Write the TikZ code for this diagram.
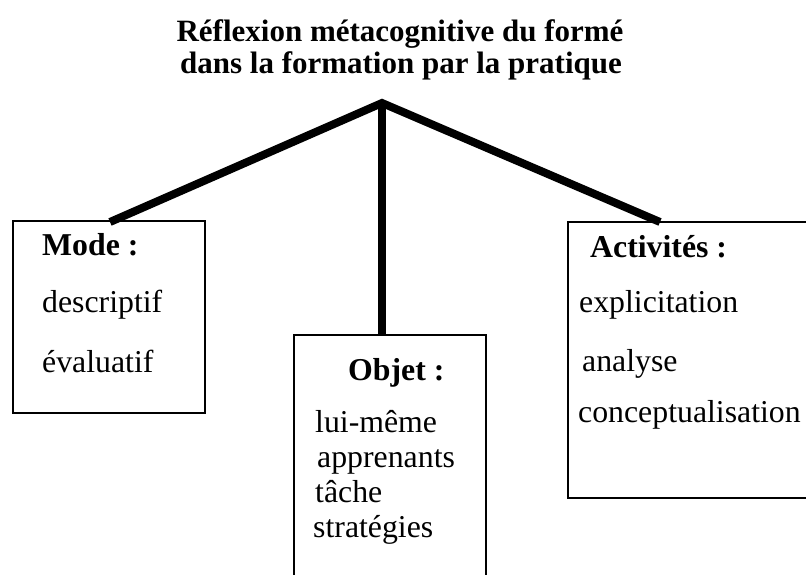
\documentclass[tikz,border=0pt]{standalone}
\usepackage{fontspec}
\setmainfont{Liberation Serif}
\begin{document}
\begin{tikzpicture}[x=1pt,y=-1pt,
  boxst/.style={draw,line width=1.6pt,minimum width=#1,inner sep=0pt,anchor=north west},
  branch/.style={line width=8pt},
  txt/.style={anchor=base west,inner sep=0pt,font=\fontsize{31.8}{33}\selectfont},
  hd/.style={txt,font=\fontsize{31.8}{33}\selectfont\bfseries},
  ttl/.style={anchor=base,inner sep=0pt,font=\fontsize{31}{33}\selectfont\bfseries}]
\useasboundingbox (0,0) rectangle (806,574);
\clip (0,0) rectangle (806,574);
% title
\node[ttl] (t1) at (400,41) {Réflexion métacognitive du formé};
\node[ttl] (t2) at (401,73) {dans la formation par la pratique};
% boxes
\node[boxst=192pt,minimum height=192pt] (lbox) at (12,220) {};
\node[boxst=192pt,minimum height=280pt] (mbox) at (293,334) {};
\node[boxst=260pt,minimum height=276pt] (rbox) at (567,221) {};
% connectors
\coordinate (apex) at (382,103);
\coordinate (lend) at (110,222);
\coordinate (rend) at (660,222);
\draw[branch] (lend) -- (apex) -- (rend);
\draw[branch] (apex) -- (382,334) coordinate (mend);
% left box text
\node[hd]  (m0) at (42,255) {Mode :};
\node[txt] (m1) at (42,312) {descriptif};
\node[txt] (m2) at (42,372) {évaluatif};
% middle box text
\node[hd]  (o0) at (348,380) {Objet :};
\node[txt] (o1) at (315,432) {lui-même};
\node[txt] (o2) at (317,467) {apprenants};
\node[txt] (o3) at (315,502) {tâche};
\node[txt] (o4) at (313,537) {stratégies};
% right box text
\node[hd]  (a0) at (590,257) {Activités :};
\node[txt] (a1) at (579,312) {explicitation};
\node[txt] (a2) at (582,371) {analyse};
\node[txt] (a3) at (578,422) {conceptualisation};
\end{tikzpicture}
\end{document}
